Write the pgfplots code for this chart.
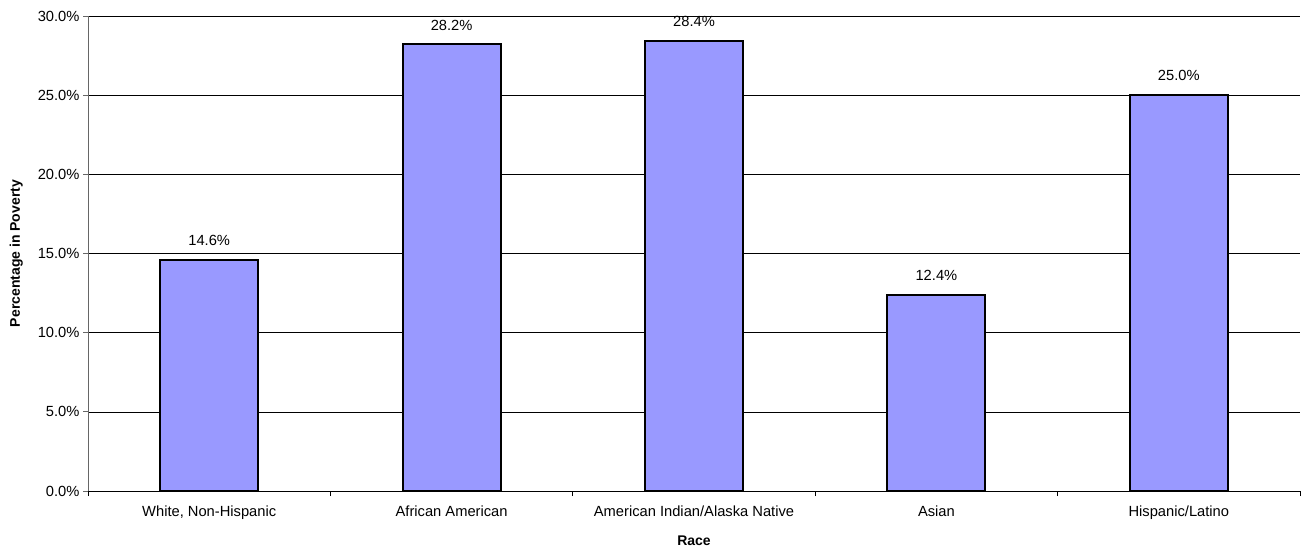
\documentclass[border=0pt]{standalone}
\usepackage{pgfplots}
\pgfplotsset{compat=1.18}
\usepackage{fontspec}
\setmainfont{Liberation Sans}
\definecolor{barfill}{HTML}{9999FF}
\begin{document}
\begin{tikzpicture}
\begin{axis}[
  name=ax,
  scale only axis,
  width=1212pt, height=475pt,
  xmin=-0.5, xmax=4.5,
  ymin=0, ymax=30,
  axis x line*=bottom, axis y line*=left,
  axis line style={draw=black!60, line width=0.8pt},
  x axis line style={draw=black},
  xtick={0,1,2,3,4},
  xticklabels={{White, Non-Hispanic},{African American},{American Indian/Alaska Native},{Asian},{Hispanic/Latino}},
  major x tick style={draw=none},
  minor xtick={-0.5,0.5,1.5,2.5,3.5,4.5},
  minor x tick style={draw=black, line width=0.8pt},
  minor tick length=5pt,
  ytick={0,5,10,15,20,25,30},
  yticklabel={\pgfmathprintnumber[fixed,fixed zerofill,precision=1]{\tick}\%},
  /pgf/number format/assume math mode=true,
  y tick style={draw=black!60, line width=0.8pt},
  major tick length=5pt,
  tick align=outside,
  ymajorgrids,
  grid style={draw=black, line width=0.7pt},
  ticklabel style={font=\fontsize{14.7}{17}\selectfont},
  xticklabel style={yshift=-6pt},
  xlabel={\bfseries Race},
  ylabel={\bfseries Percentage in Poverty},
  label style={font=\fontsize{14}{17}\selectfont},
  xlabel style={yshift=-10pt},
  ylabel style={yshift=8pt},
  clip=false,
]
\addplot[ybar, bar width=98pt, fill=barfill, draw=black, line width=2pt,
  nodes near coords={\pgfmathprintnumber[fixed,fixed zerofill,precision=1]{\pgfplotspointmeta}\%},
  nodes near coords style={font=\fontsize{14.7}{17}\selectfont, /pgf/number format/assume math mode=true, yshift=10pt}]
  coordinates {(0,14.6) (1,28.2) (2,28.4) (3,12.4) (4,25.0)};
\end{axis}
\path ([xshift=-88pt,yshift=-60pt]ax.south west) rectangle ([xshift=9pt,yshift=16pt]ax.north east);
\end{tikzpicture}
\end{document}
